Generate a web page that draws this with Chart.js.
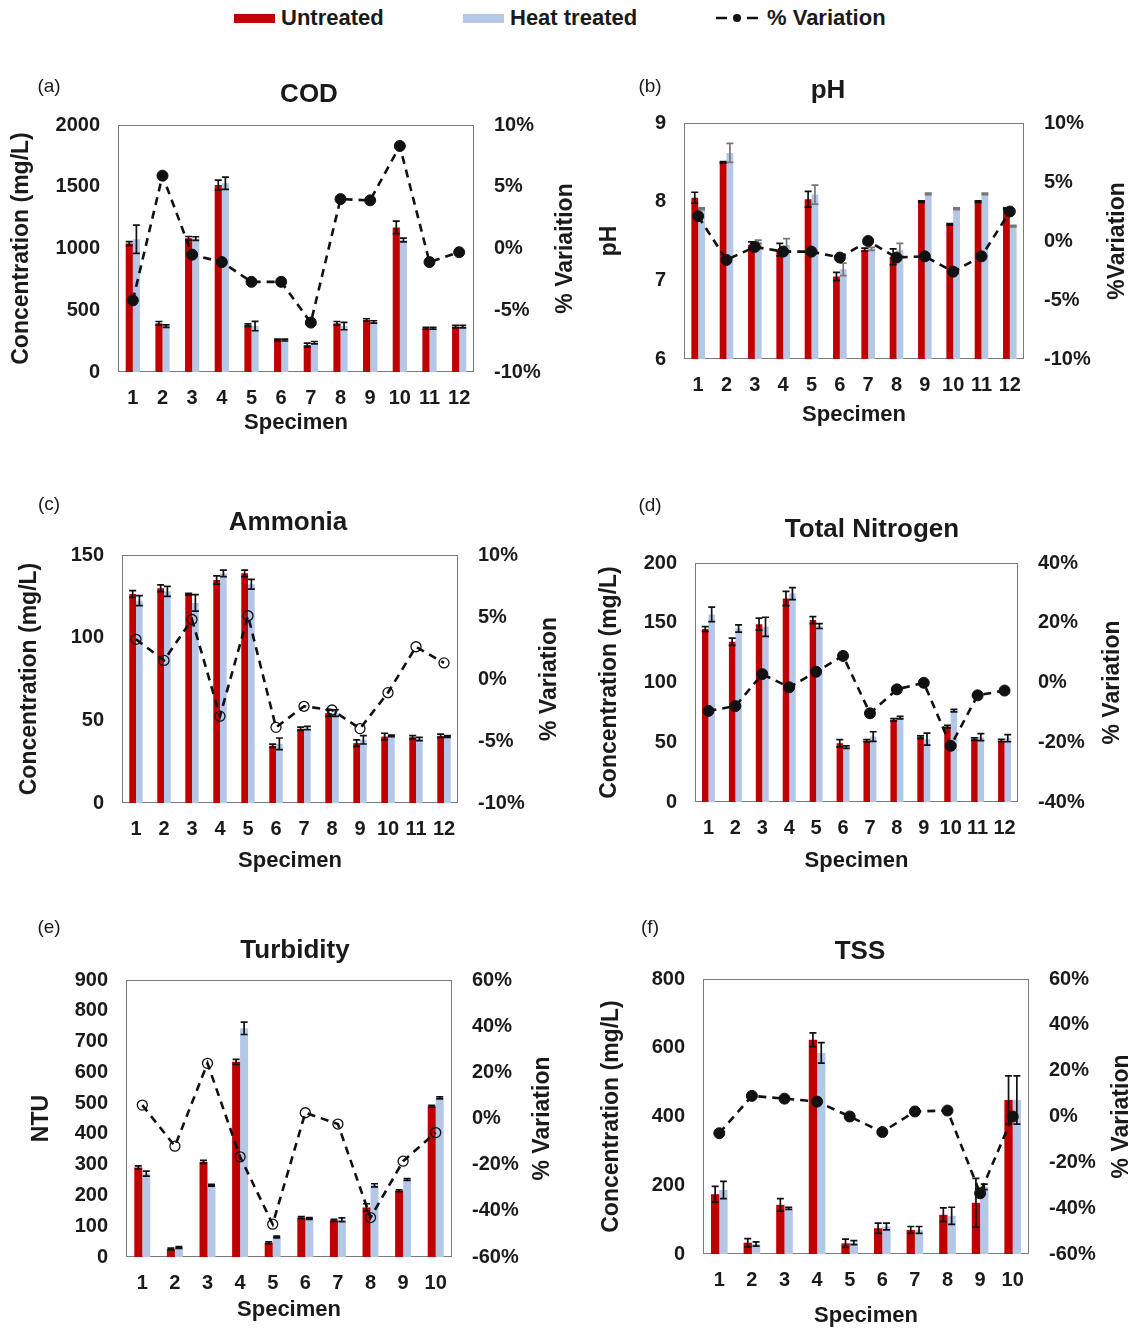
<!DOCTYPE html>
<html>
<head>
<meta charset="utf-8">
<script src="https://cdn.jsdelivr.net/npm/chart.js@4.4.1/dist/chart.umd.min.js"></script>
<style>
  body { margin: 0; background: #fff; }
  #page { position: relative; width: 1134px; height: 1331px; font-family: "Liberation Sans", Arial, sans-serif; color: #1a1a1a; }
  canvas { position: absolute; }
  #legend { position: absolute; top: 4px; left: 0; width: 1134px; height: 28px; font-size: 22px; font-weight: bold; }
  .item { position: absolute; top: 0; height: 28px; display: flex; align-items: center; }
  .sw { display: inline-block; width: 41px; height: 9px; margin-right: 6px; }
</style>
</head>
<body>
<div id="page">
  <div id="legend">
    <div class="item" style="left:234px"><span class="sw" style="background:#C00000"></span>Untreated</div>
    <div class="item" style="left:463px"><span class="sw" style="background:#B4C7E7"></span>Heat treated</div>
    <div class="item" style="left:715px">
      <svg width="50" height="12" style="margin-right:2px">
        <line x1="1" y1="6" x2="12" y2="6" stroke="#111" stroke-width="2.5"/>
        <circle cx="22" cy="6" r="4" fill="#111"/>
        <line x1="32" y1="6" x2="43" y2="6" stroke="#111" stroke-width="2.5"/>
      </svg>% Variation
    </div>
  </div>
  <canvas id="chartA"></canvas>
  <canvas id="chartB"></canvas>
  <canvas id="chartC"></canvas>
  <canvas id="chartD"></canvas>
  <canvas id="chartE"></canvas>
  <canvas id="chartF"></canvas>
</div>
<script>
/* data */
const specimens12 = ['1', '2', '3', '4', '5', '6', '7', '8', '9', '10', '11', '12'];
const specimens10 = ['1', '2', '3', '4', '5', '6', '7', '8', '9', '10'];

// (a) COD, mg/L
const codUntreated    = [1040, 394, 1082, 1514, 380, 259, 219, 394, 421, 1171, 354, 367];
const codHeat         = [1075, 372, 1080, 1528, 372, 259, 237, 372, 405, 1069, 354, 367];
const codUntreatedErr = [15, 15, 15, 40, 10, 8, 15, 15, 10, 50, 8, 10];
const codHeatErr      = [115, 10, 15, 50, 38, 8, 10, 30, 10, 15, 8, 10];
const codVariation    = [-4.2, 5.9, -0.5, -1.1, -2.7, -2.7, -6.0, 4.0, 3.9, 8.3, -1.1, -0.3];

// (b) pH
const phUntreated    = [8.05, 8.50, 7.45, 7.39, 8.03, 7.05, 7.39, 7.30, 8.00, 7.71, 8.00, 7.91];
const phHeat         = [7.91, 8.62, 7.49, 7.45, 8.09, 7.14, 7.40, 7.39, 8.10, 7.91, 8.10, 7.69];
const phUntreatedErr = [0.07, 0.01, 0.04, 0.08, 0.10, 0.05, 0.02, 0.10, 0.01, 0.01, 0.01, 0.01];
const phHeatErr      = [0.01, 0.12, 0.02, 0.08, 0.12, 0.08, 0.02, 0.08, 0.01, 0.01, 0.01, 0.01];
const phVariation    = [2.1, -1.6, -0.5, -0.9, -0.9, -1.4, 0.0, -1.4, -1.3, -2.6, -1.3, 2.5];

// (c) Ammonia, mg/L
const nhUntreated    = [126.4, 129.9, 126.3, 134.9, 138.9, 34.6, 44.9, 54.4, 36.2, 40.2, 39.8, 40.6];
const nhHeat         = [122.4, 128.0, 121.0, 138.9, 132.3, 35.8, 45.3, 54.4, 38.2, 40.6, 38.7, 40.2];
const nhUntreatedErr = [2, 2, 0.5, 2.5, 2, 1, 1, 2, 2, 2, 1, 1];
const nhHeatErr      = [3, 3, 5, 2, 3, 3.5, 1, 2, 2.5, 0.5, 1, 0.5];
const nhVariation    = [3.2, 1.5, 4.8, -3.0, 5.1, -3.9, -2.2, -2.5, -4.0, -1.1, 2.6, 1.3];

// (d) Total Nitrogen, mg/L
const tnUntreated    = [144.7, 134.1, 148.8, 170.3, 152.2, 49.2, 51.2, 68.7, 54.3, 63.1, 52.6, 51.4];
const tnHeat         = [157.0, 145.2, 146.6, 174.4, 147.2, 45.9, 54.8, 70.6, 52.6, 76.5, 54.3, 53.4];
const tnUntreatedErr = [2, 3, 5, 6, 3, 3, 1, 1, 1, 1, 1, 1];
const tnHeatErr      = [6, 3, 8, 5, 2, 1, 4, 1, 5, 1, 3, 3];
const tnVariation    = [-9.5, -7.9, 2.8, -1.6, 3.6, 8.9, -10.3, -2.3, -0.1, -21.2, -4.3, -2.7];

// (e) Turbidity, NTU
const tuUntreated    = [291, 26, 309, 634, 46, 128, 119, 161, 215, 490];
const tuHeat         = [271, 31, 233, 743, 65, 125, 121, 233, 252, 517];
const tuUntreatedErr = [5, 3, 5, 8, 3, 3, 3, 12, 3, 3];
const tuHeatErr      = [8, 3, 3, 20, 3, 3, 6, 5, 3, 3];
const tuVariation    = [5.8, -12.0, 23.9, -16.6, -45.8, 2.5, -2.4, -42.9, -18.5, -6.1];

// (f) TSS, mg/L
const tssUntreated    = [174, 33, 143, 623, 31, 75, 70, 114, 149, 448];
const tssHeat         = [186, 29, 133, 585, 33, 80, 70, 111, 195, 448];
const tssUntreatedErr = [23, 12, 18, 20, 12, 15, 10, 20, 71, 70];
const tssHeatErr      = [25, 6, 3, 30, 6, 10, 10, 25, 8, 70];
const tssVariation    = [-7.3, 9.0, 7.8, 6.5, 0.0, -6.8, 2.2, 2.6, -33.5, 0.0];

const RED = '#C00000';
const BLUE = '#B4C7E7';
const INK = '#1a1a1a';
const FONT = '"Liberation Sans", Arial, sans-serif';

Chart.defaults.font.family = FONT;
Chart.defaults.color = INK;

/* plot frame */
const frame = {
  id: 'frame',
  beforeDatasetsDraw(chart) {
    const { ctx, chartArea: a } = chart;
    ctx.save();
    ctx.strokeStyle = '#7a7a7a';
    ctx.lineWidth = 1;
    ctx.strokeRect(a.left + 0.5, a.top + 0.5, a.width - 1, a.height - 1);
    ctx.restore();
  }
};

/* error bars on bar datasets */
const errorBars = {
  id: 'errorBars',
  afterDatasetDraw(chart, args) {
    const ds = chart.data.datasets[args.index];
    if (!ds.errors) return;
    const ctx = chart.ctx;
    const yScale = chart.scales[args.meta.yAxisID];
    ctx.save();
    ctx.strokeStyle = ds.errorColor || '#111';
    ctx.lineWidth = 1.7;
    args.meta.data.forEach((bar, i) => {
      const v = ds.data[i], e = ds.errors[i];
      const top = yScale.getPixelForValue(v + e);
      const bot = yScale.getPixelForValue(v - e);
      const x = bar.x, cap = 3.5;
      ctx.beginPath();
      ctx.moveTo(x, top); ctx.lineTo(x, bot);
      ctx.moveTo(x - cap, top); ctx.lineTo(x + cap, top);
      ctx.moveTo(x - cap, bot); ctx.lineTo(x + cap, bot);
      ctx.stroke();
    });
    ctx.restore();
  }
};

/* panel letter, title and the right axis title (reads bottom to top) */
const panelText = {
  id: 'panelText',
  afterDraw(chart, args, opts) {
    const ctx = chart.ctx;
    const a = chart.chartArea;
    ctx.save();
    ctx.fillStyle = INK;
    ctx.textAlign = 'center';
    ctx.textBaseline = 'middle';
    ctx.font = '19px ' + FONT;
    ctx.fillText(opts.label, opts.labelX, opts.labelY);
    ctx.font = 'bold 26px ' + FONT;
    ctx.fillText(opts.title, opts.titleX, opts.titleY);
    ctx.translate(opts.rightTitleX, (a.top + a.bottom) / 2);
    ctx.rotate(-Math.PI / 2);
    ctx.font = 'bold 23px ' + FONT;
    ctx.fillText(opts.rightTitle, 0, 0);
    ctx.restore();
  }
};

function makePanel(id, box, plot, cfg) {
  const canvas = document.getElementById(id);
  canvas.width = box.w;
  canvas.height = box.h;
  canvas.style.left = box.x + 'px';
  canvas.style.top = box.y + 'px';
  canvas.style.width = box.w + 'px';
  canvas.style.height = box.h + 'px';

  const data = {
    labels: cfg.labels,
    datasets: [{
      type: 'line',
      label: '% Variation',
      data: cfg.variation,
      yAxisID: 'y1',
      order: 0,
      borderColor: '#111',
      borderWidth: 2.6,
      borderDash: [8, 6],
      tension: 0,
      fill: false,
      pointRadius: cfg.openMarkers ? 5 : 5.5,
      pointBorderWidth: cfg.openMarkers ? 1.3 : 1,
      pointBorderColor: '#111',
      pointBackgroundColor: cfg.openMarkers ? 'rgba(0,0,0,0)' : '#111'
    }, {
      type: 'bar',
      label: 'Untreated',
      data: cfg.untreated,
      errors: cfg.untreatedErr,
      yAxisID: 'y',
      order: 1,
      backgroundColor: RED,
      barPercentage: 1,
      categoryPercentage: cfg.catPct
    }, {
      type: 'bar',
      label: 'Heat treated',
      data: cfg.heat,
      errors: cfg.heatErr,
      errorColor: cfg.heatErrColor,
      yAxisID: 'y',
      order: 1,
      backgroundColor: BLUE,
      barPercentage: 1,
      categoryPercentage: cfg.catPct
    }]
  };

  const options = {
    responsive: false,
    animation: false,
    layout: { padding: { top: plot.t - box.y, left: 0, right: 0, bottom: 0 } },
    plugins: {
      legend: { display: false },
      tooltip: { enabled: false },
      panelText: {
        label: cfg.label, labelX: cfg.labelPos[0] - box.x, labelY: cfg.labelPos[1] - box.y,
        title: cfg.title, titleX: cfg.titlePos[0] - box.x, titleY: cfg.titlePos[1] - box.y,
        rightTitle: cfg.y1Title, rightTitleX: cfg.y1TitleX - box.x
      }
    },
    scales: {
      x: {
        grid: { display: false, drawTicks: false },
        border: { display: false },
        ticks: { autoSkip: false, maxRotation: 0, padding: 14, font: { size: 20, weight: 'bold' } },
        title: { display: true, text: 'Specimen', font: { size: 22, weight: 'bold' }, padding: { top: 0, bottom: cfg.xTitlePad } },
        afterFit: s => { s.height = box.y + box.h - plot.b; }
      },
      y: {
        position: 'left',
        min: cfg.yMin, max: cfg.yMax,
        grid: { display: false, drawTicks: false },
        border: { display: false },
        ticks: { stepSize: cfg.yStep, padding: 18, font: { size: 20, weight: 'bold' }, callback: v => String(v) },
        title: { display: true, text: cfg.yTitle, font: { size: 23, weight: 'bold' }, padding: { top: cfg.yTitlePad, bottom: 0 } },
        afterFit: s => { s.width = plot.l - box.x; }
      },
      y1: {
        position: 'right',
        min: cfg.y1Min, max: cfg.y1Max,
        grid: { display: false, drawTicks: false },
        border: { display: false },
        ticks: { stepSize: cfg.y1Step, padding: 20, font: { size: 20, weight: 'bold' }, callback: v => v + '%' },
        afterFit: s => { s.width = box.x + box.w - plot.r; }
      }
    }
  };

  return new Chart(canvas, { data, options, plugins: [frame, errorBars, panelText] });
}

makePanel('chartA', { x: 0, y: 40, w: 580, h: 410 }, { l: 118, t: 125, r: 474, b: 372 }, {
  labels: specimens12, untreated: codUntreated, heat: codHeat,
  untreatedErr: codUntreatedErr, heatErr: codHeatErr, variation: codVariation,
  yMin: 0, yMax: 2000, yStep: 500, y1Min: -10, y1Max: 10, y1Step: 5,
  yTitle: 'Concentration (mg/L)', yTitlePad: 8, y1Title: '% Variaition', y1TitleX: 566, xTitlePad: 14,
  catPct: 0.48, label: '(a)', labelPos: [49, 87], title: 'COD', titlePos: [309, 95]
});

makePanel('chartB', { x: 580, y: 40, w: 554, h: 410 }, { l: 684, t: 123, r: 1024, b: 359 }, {
  labels: specimens12, untreated: phUntreated, heat: phHeat,
  untreatedErr: phUntreatedErr, heatErr: phHeatErr, variation: phVariation, heatErrColor: '#777',
  yMin: 6, yMax: 9, yStep: 1, y1Min: -10, y1Max: 10, y1Step: 5,
  yTitle: 'pH', yTitlePad: 16, y1Title: '%Variation', y1TitleX: 1118, xTitlePad: 22,
  catPct: 0.48, label: '(b)', labelPos: [650, 87], title: 'pH', titlePos: [828, 91]
});

makePanel('chartC', { x: 0, y: 470, w: 580, h: 410 }, { l: 122, t: 555, r: 458, b: 803 }, {
  labels: specimens12, untreated: nhUntreated, heat: nhHeat,
  untreatedErr: nhUntreatedErr, heatErr: nhHeatErr, variation: nhVariation, openMarkers: true,
  yMin: 0, yMax: 150, yStep: 50, y1Min: -10, y1Max: 10, y1Step: 5,
  yTitle: 'Concentration (mg/L)', yTitlePad: 16, y1Title: '% Variation', y1TitleX: 550, xTitlePad: 6,
  catPct: 0.48, label: '(c)', labelPos: [49, 505], title: 'Ammonia', titlePos: [288, 523]
});

makePanel('chartD', { x: 580, y: 470, w: 554, h: 410 }, { l: 695, t: 563, r: 1018, b: 802 }, {
  labels: specimens12, untreated: tnUntreated, heat: tnHeat,
  untreatedErr: tnUntreatedErr, heatErr: tnHeatErr, variation: tnVariation,
  yMin: 0, yMax: 200, yStep: 50, y1Min: -40, y1Max: 40, y1Step: 20,
  yTitle: 'Concentration (mg/L)', yTitlePad: 16, y1Title: '% Variation', y1TitleX: 1113, xTitlePad: 6,
  catPct: 0.48, label: '(d)', labelPos: [650, 506], title: 'Total Nitrogen', titlePos: [872, 530]
});

makePanel('chartE', { x: 0, y: 900, w: 580, h: 431 }, { l: 126, t: 980, r: 452, b: 1257 }, {
  labels: specimens10, untreated: tuUntreated, heat: tuHeat,
  untreatedErr: tuUntreatedErr, heatErr: tuHeatErr, variation: tuVariation, openMarkers: true,
  yMin: 0, yMax: 900, yStep: 100, y1Min: -60, y1Max: 60, y1Step: 20,
  yTitle: 'NTU', yTitlePad: 28, y1Title: '% Variation', y1TitleX: 543, xTitlePad: 8,
  catPct: 0.49, label: '(e)', labelPos: [49, 928], title: 'Turbidity', titlePos: [295, 951]
});

makePanel('chartF', { x: 580, y: 900, w: 554, h: 431 }, { l: 703, t: 979, r: 1029, b: 1254 }, {
  labels: specimens10, untreated: tssUntreated, heat: tssHeat,
  untreatedErr: tssUntreatedErr, heatErr: tssHeatErr, variation: tssVariation,
  yMin: 0, yMax: 800, yStep: 200, y1Min: -60, y1Max: 60, y1Step: 20,
  yTitle: 'Concentration (mg/L)', yTitlePad: 18, y1Title: '% Variation', y1TitleX: 1122, xTitlePad: 2,
  catPct: 0.51, label: '(f)', labelPos: [650, 928], title: 'TSS', titlePos: [860, 952]
});
</script>
</body>
</html>
